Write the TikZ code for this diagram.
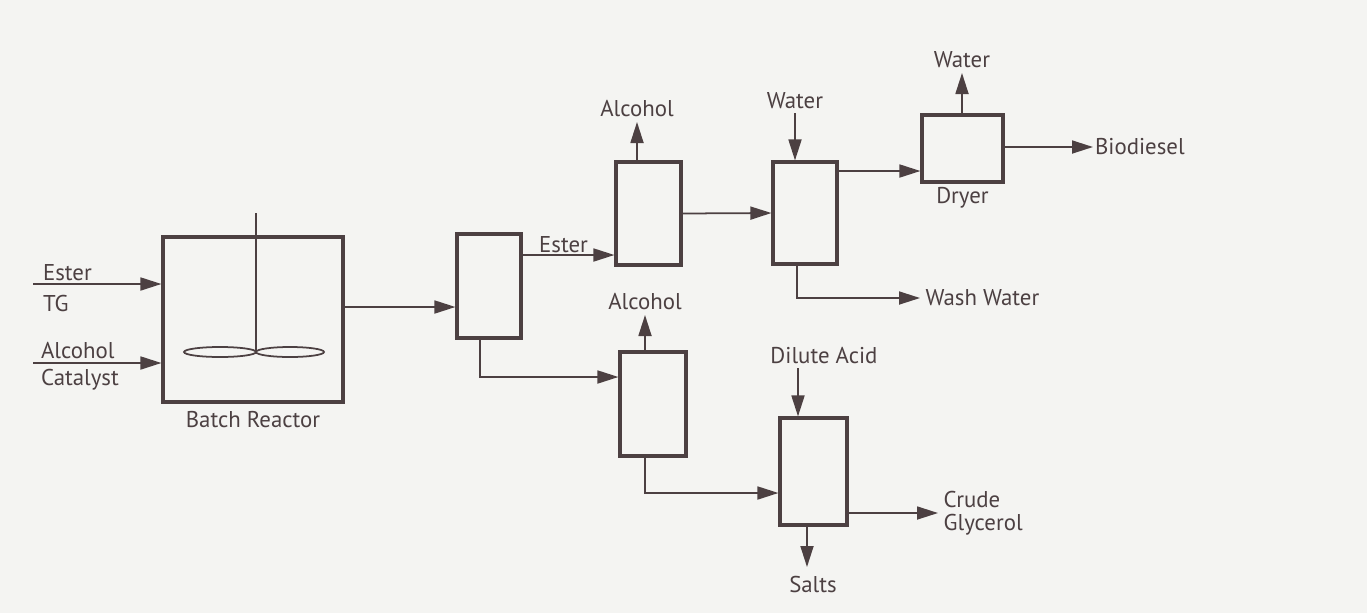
\documentclass[tikz,border=0pt]{standalone}
\usepackage{fontspec}
\setmainfont{PT Sans}
\usetikzlibrary{arrows.meta, positioning, calc}
\definecolor{ink}{RGB}{76,64,66}
\definecolor{paper}{RGB}{244,244,242}

\tikzset{
  unit/.style={draw=ink, line width=1.8pt, inner sep=0pt},
  flow/.style={draw=ink, line width=1pt, -{Triangle[length=4.2mm, width=2.6mm]}},
  lbl/.style={font=\fontsize{13}{13}\selectfont, text=ink, inner sep=1pt},
}

\begin{document}
\begin{tikzpicture}[x=0.02cm, y=-0.02cm]
  \fill[paper] (0,0) rectangle (1367,613);
  \useasboundingbox (0,0) rectangle (1367,613);

  % process units
  \node[unit, minimum width=3.6cm, minimum height=3.3cm] (reactor) at (253,319.5) {};
  \node[unit, minimum width=1.28cm, minimum height=2.08cm] (sep) at (489,286) {};
  \node[unit, minimum width=1.3cm, minimum height=2.06cm] (evapA) at (648.5,213.5) {};
  \node[unit, minimum width=1.28cm, minimum height=2.04cm] (washer) at (805,213) {};
  \node[unit, minimum width=1.62cm, minimum height=1.34cm] (dryer) at (962.5,148.5) {};
  \node[unit, minimum width=1.32cm, minimum height=2.08cm] (evapB) at (653,404) {};
  \node[unit, minimum width=1.34cm, minimum height=2.14cm] (neut) at (813.5,471.5) {};

  % agitator
  \draw[ink, line width=1.2pt] (256,213) -- (256,352);
  \draw[ink, line width=1pt] (220,352) ellipse [x radius=0.72cm, y radius=0.1cm];
  \draw[ink, line width=1pt] (290,352) ellipse [x radius=0.68cm, y radius=0.1cm];

  \node[lbl, below=3pt of reactor] (reactorlbl) {Batch Reactor};
  \node[lbl, below=1pt of dryer] (dryerlbl) {Dryer};

  % feeds
  \coordinate (feedA) at (33,284);
  \coordinate (feedB) at (33,363);
  \draw[flow] (feedA) -- (feedA -| reactor.west);
  \draw[flow] (feedB) -- (feedB -| reactor.west);
  \node[lbl, anchor=base west] (esterin) at (41,280) {Ester};
  \node[lbl, anchor=north west] (tgin) at (41,293) {TG};
  \node[lbl, anchor=base west] (alcin) at (39,358) {Alcohol};
  \node[lbl, anchor=north west] (catin) at (39,367) {Catalyst};

  % reactor to separator
  \coordinate (lvlmix) at (0,307);
  \draw[flow] (reactor.east |- lvlmix) -- (sep.west |- lvlmix);

  % ester line
  \coordinate (lvlester) at (0,255);
  \draw[flow] (sep.east |- lvlester) -- (evapA.west |- lvlester)
    node[lbl, midway, above, xshift=-0.1cm] (esterlbl) {Ester};

  \coordinate (alcAtop) at (637,122);
  \draw[flow] (evapA.north -| alcAtop) -- (alcAtop);
  \node[lbl, above=2pt of alcAtop] (alcAlbl) {Alcohol};

  \draw[flow] (evapA.east) -- (washer.west);

  \coordinate (waterin) at (795,113);
  \draw[flow] (waterin) -- (waterin |- washer.north);
  \node[lbl, above=1pt of waterin] (waterinlbl) {Water};

  \coordinate (lvlwet) at (0,171);
  \draw[flow] (washer.east |- lvlwet) -- (dryer.west |- lvlwet);

  \coordinate (waterout) at (962,73);
  \draw[flow] (dryer.north -| waterout) -- (waterout);
  \node[lbl, above=2pt of waterout] (wateroutlbl) {Water};

  \coordinate (bioout) at (1093,147);
  \draw[flow] (dryer.east |- bioout) -- (bioout);
  \node[lbl, right=0pt of bioout] (biolbl) {Biodiesel};

  \coordinate (washout) at (920,298);
  \draw[flow] ([xshift=-0.16cm]washer.south) |- (washout);
  \node[lbl, right=2pt of washout] (washlbl) {Wash Water};

  % glycerol line
  \coordinate (lvlglyc) at (0,377);
  \draw[flow] ([xshift=-0.18cm]sep.south) |- (evapB.west |- lvlglyc);

  \coordinate (alcBtop) at (645,315);
  \draw[flow] (evapB.north -| alcBtop) -- (alcBtop);
  \node[lbl, above=2pt of alcBtop] (alcBlbl) {Alcohol};

  \coordinate (lvlneut) at (0,493);
  \draw[flow] ([xshift=-0.16cm]evapB.south) |- (neut.west |- lvlneut);

  \coordinate (acidin) at (798,368);
  \draw[flow] (acidin) -- (acidin |- neut.north);
  \node[lbl, above=1pt of acidin, xshift=0.52cm] (acidlbl) {Dilute Acid};

  \coordinate (saltout) at (807,567);
  \draw[flow] (neut.south -| saltout) -- (saltout);
  \node[lbl, below=4pt of saltout, xshift=0.12cm] (saltlbl) {Salts};

  \coordinate (glycout) at (938,513);
  \draw[flow] (neut.east |- glycout) -- (glycout);
  \node[lbl, right=2pt of glycout, align=left] (glyclbl) {Crude\\Glycerol};
\end{tikzpicture}
\end{document}
